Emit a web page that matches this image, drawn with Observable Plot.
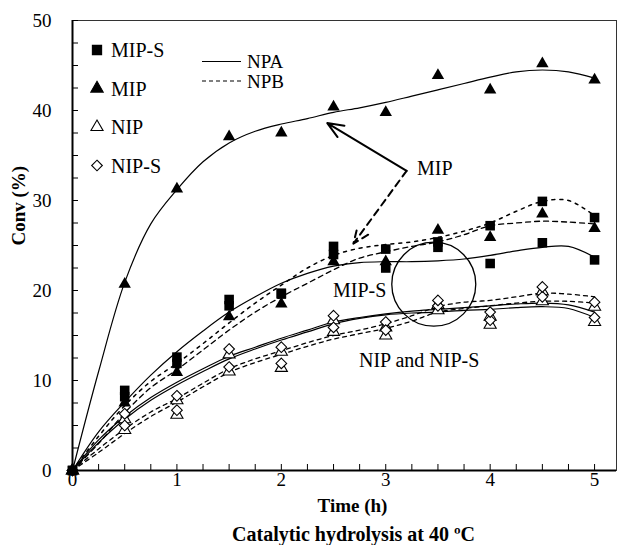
<!DOCTYPE html>
<html><head><meta charset="utf-8">
<script src="https://cdn.jsdelivr.net/npm/d3@7"></script>
<script src="https://cdn.jsdelivr.net/npm/@observablehq/plot@0.6"></script>
<style>body{margin:0;background:#fff} svg text{font-family:"Liberation Serif","Times New Roman",Times,serif;}</style>
</head><body><div id="chart"></div>
<script>
// ---- measured points (markers) ----
const times = [0, 0.5, 1, 1.5, 2, 2.5, 3, 3.5, 4, 4.5, 5];
const mipNPA   = [0, 20.7, 31.3, 37.1, 37.5, 40.4, 39.8, 43.9, 42.3, 45.2, 43.4];
const mipNPB   = [0, 7.5, 10.9, 17.1, 18.5, 23.2, 23.2, 26.7, 25.9, 28.5, 26.9];
const mipsNPA  = [0, 8.9, 12.6, 19.0, 19.7, 24.0, 22.5, 24.8, 23.0, 25.3, 23.4];
const mipsNPB  = [0, 8.2, 11.9, 18.3, 19.6, 24.9, 24.6, 25.4, 27.2, 29.9, 28.1];
const nipNPA   = [0, 5.7, 7.8, 12.9, 13.2, 16.7, 15.9, 17.8, 16.2, 18.8, 16.5];
const nipsNPA  = [0, 6.3, 8.3, 13.5, 13.7, 17.2, 16.5, 18.3, 16.7, 19.3, 17.0];
const nipNPB   = [0, 4.5, 6.2, 11.0, 11.4, 15.4, 15.0, 18.4, 17.1, 19.9, 18.2];
const nipsNPB  = [0, 5.0, 6.7, 11.5, 11.9, 15.9, 15.6, 18.9, 17.6, 20.4, 18.7];

// ---- fitted curves ----
const curveTimes = [0, 0.25, 0.5, 0.75, 1, 1.25, 1.5, 1.75, 2, 2.25, 2.5, 2.75, 3, 3.25, 3.5, 3.75, 4, 4.25, 4.5, 4.75, 5];
const mipNPALine  = [0, 11.0, 20.9, 27.4, 31.2, 34.3, 36.4, 37.7, 38.5, 39.1, 39.8, 40.3, 40.9, 41.6, 42.3, 43.0, 43.7, 44.3, 44.5, 44.3, 43.6];
const mipsNPALine = [0, 4.3, 7.6, 10.6, 13.2, 15.5, 17.6, 19.3, 20.8, 21.9, 22.7, 23.1, 23.2, 23.2, 23.3, 23.5, 23.9, 24.4, 24.8, 24.9, 23.7];
const mipsNPBLine = [0, 3.8, 7.2, 9.9, 11.9, 14.1, 16.4, 18.6, 20.6, 22.5, 23.9, 24.7, 25.1, 25.4, 25.9, 26.6, 27.5, 28.8, 29.9, 30.0, 28.3];
const mipNPBLine  = [0, 3.0, 6.4, 9.2, 11.2, 13.4, 15.6, 17.6, 19.3, 20.8, 22.3, 23.6, 24.3, 24.9, 25.4, 26.2, 27.2, 27.5, 27.7, 27.6, 27.4];
const nipsNPALine = [0, 3.4, 6.0, 8.1, 9.8, 11.3, 12.7, 13.7, 14.7, 15.6, 16.5, 17.0, 17.4, 17.7, 17.9, 18.1, 18.3, 18.5, 18.6, 18.4, 17.6];
const nipNPALine  = [0, 3.1, 5.7, 7.8, 9.5, 11.0, 12.4, 13.5, 14.5, 15.4, 16.3, 16.9, 17.3, 17.5, 17.6, 17.8, 17.9, 18.1, 18.2, 18.0, 17.0];
const nipsNPBLine = [0, 2.4, 4.6, 6.5, 8.0, 9.7, 11.3, 12.4, 13.3, 14.2, 15.0, 15.6, 16.3, 17.2, 18.2, 18.7, 18.9, 19.3, 19.7, 19.6, 19.3];
const nipNPBLine  = [0, 2.0, 4.1, 6.0, 7.6, 9.3, 10.9, 12.0, 12.9, 13.8, 14.6, 15.2, 15.8, 16.6, 17.6, 18.0, 18.3, 18.6, 18.8, 18.8, 18.6];

// ---- axes ----
const xTickLabels = [0, 1, 2, 3, 4, 5];
const xMinorTicks = [0, 0.25, 0.5, 0.75, 1, 1.25, 1.5, 1.75, 2, 2.25, 2.5, 2.75, 3, 3.25, 3.5, 3.75, 4, 4.25, 4.5, 4.75, 5];
const yTickLabels = [0, 10, 20, 30, 40, 50];
const yMinorTicks = [0, 2.5, 5, 7.5, 10, 12.5, 15, 17.5, 20, 22.5, 25, 27.5, 30, 32.5, 35, 37.5, 40, 42.5, 45, 47.5, 50];

// ---- annotations ----
const labelTexts = ["MIP", "MIP-S", "NIP and NIP-S"];
const labelX = [3.30, 2.75, 3.32];
const labelY = [33.6, 20.0, 12.2];
const labelAnchor = ["start", "middle", "middle"];
const arrowFrom = [[3.20, 33.3], [3.20, 33.3]];
const arrowTo = [[2.44, 38.6], [2.69, 25.2]];
const arrowDashed = [false, true];
const circleCenter = [{t: 3.46, v: 20.7}];

const legendSymbols = ["MIP-S", "MIP", "NIP", "NIP-S"];
const legendLines = ["NPA", "NPB"];

const pts = (ts, vs) => ts.map((t, i) => ({t, v: vs[i]}));
const labels = labelTexts.map((text, i) => ({text, t: labelX[i], v: labelY[i], anchor: labelAnchor[i]}));
const arrows = arrowFrom.map((f, i) => ({x1: f[0], y1: f[1], x2: arrowTo[i][0], y2: arrowTo[i][1], dashed: arrowDashed[i]}));

const FONT = "'Liberation Serif', 'Times New Roman', Times, serif";

function line(vals, dash, sw = 1.2) {
  return Plot.line(pts(curveTimes, vals), {x: "t", y: "v", curve: "catmull-rom", stroke: "black", strokeWidth: sw, strokeDasharray: dash});
}

function legendMark(index, scales, values, dims) {
  const g = d3.create("svg:g").attr("font-family", FONT).attr("font-size", 20).attr("fill", "black").attr("text-anchor", "start");
  const L = dims.marginLeft, T = dims.marginTop;
  const specs = [
    {sym: d3.symbolSquare, size: Math.PI * 5.2 * 5.2, fill: "black"},
    {sym: d3.symbolTriangle, size: Math.PI * 4.6 * 4.6, fill: "black"},
    {sym: d3.symbolTriangle, size: Math.PI * 4.5 * 4.5, fill: "white"},
    {sym: d3.symbolDiamond2, size: Math.PI * 4.8 * 4.8, fill: "white"}
  ];
  legendSymbols.forEach((label, i) => {
    const y = T + 30 + i * 38.5;
    const s = specs[i];
    g.append("path").attr("transform", `translate(${L + 25},${y})`)
      .attr("d", d3.symbol(s.sym, s.size)()).attr("fill", s.fill).attr("stroke", "black").attr("stroke-width", 1.1);
    g.append("text").attr("x", L + 39).attr("y", y).attr("dy", "0.35em").text(label);
  });
  legendLines.forEach((label, i) => {
    const y = T + 41.5 + i * 19.5;
    g.append("line").attr("x1", L + 130).attr("x2", L + 169).attr("y1", y).attr("y2", y)
      .attr("stroke", "black").attr("stroke-width", 1.1).attr("stroke-dasharray", i === 0 ? null : "4,3");
    g.append("text").attr("x", L + 175).attr("y", y).attr("dy", "0.35em").attr("font-size", 19).text(label);
  });
  return g.node();
}

const chart = Plot.plot({
  width: 621,
  height: 545,
  marginLeft: 72,
  marginRight: 5,
  marginTop: 20,
  marginBottom: 75,
  style: {fontFamily: FONT, fontSize: "19px", color: "black", background: "white", overflow: "visible"},
  x: {domain: [0, 5.21], axis: null},
  y: {domain: [0, 50], axis: null},
  marks: [
    Plot.frame({stroke: "#333", strokeWidth: 1}),
    Plot.ruleX([0], {stroke: "black", strokeWidth: 2}),
    Plot.ruleY([0], {stroke: "black", strokeWidth: 2}),
    Plot.axisX(xMinorTicks, {anchor: "bottom", tickSize: -6, tickFormat: () => "", label: null}),
    Plot.axisX(xTickLabels, {anchor: "bottom", tickSize: 0, tickPadding: 2, fontSize: 19, label: null}),
    Plot.axisY(yMinorTicks, {anchor: "left", tickSize: -6, tickFormat: () => "", label: null}),
    Plot.axisY(yTickLabels, {anchor: "left", tickSize: 0, tickPadding: 21, fontSize: 19, label: null}),

    line(mipNPALine, null),
    line(mipsNPALine, null),
    line(mipsNPBLine, "3,5", 1.5),
    line(mipNPBLine, "5,4", 1.3),
    line(nipsNPALine, null),
    line(nipNPALine, null),
    line(nipsNPBLine, "4,4", 1.3),
    line(nipNPBLine, "4,4", 1.3),

    Plot.dot(pts(times, nipNPA), {x: "t", y: "v", symbol: "triangle", r: 4.5, fill: "white", stroke: "black", strokeWidth: 1.1}),
    Plot.dot(pts(times, nipNPB), {x: "t", y: "v", symbol: "triangle", r: 4.5, fill: "white", stroke: "black", strokeWidth: 1.1}),
    Plot.dot(pts(times, nipsNPA), {x: "t", y: "v", symbol: "diamond2", r: 4.8, fill: "white", stroke: "black", strokeWidth: 1.1}),
    Plot.dot(pts(times, nipsNPB), {x: "t", y: "v", symbol: "diamond2", r: 4.8, fill: "white", stroke: "black", strokeWidth: 1.1}),
    Plot.dot(pts(times, mipNPA), {x: "t", y: "v", symbol: "triangle", r: 4.6, fill: "black", stroke: "none"}),
    Plot.dot(pts(times, mipNPB), {x: "t", y: "v", symbol: "triangle", r: 4.6, fill: "black", stroke: "none"}),
    Plot.dot(pts(times, mipsNPA), {x: "t", y: "v", symbol: "square", r: 5.4, fill: "black", stroke: "none"}),
    Plot.dot(pts(times, mipsNPB), {x: "t", y: "v", symbol: "square", r: 5.4, fill: "black", stroke: "none"}),

    Plot.dot(circleCenter, {x: "t", y: "v", r: 42, fill: "none", stroke: "black", strokeWidth: 1.3}),
    Plot.arrow(arrows.filter(d => !d.dashed), {x1: "x1", y1: "y1", x2: "x2", y2: "y2", stroke: "black", strokeWidth: 2, headLength: 13, headAngle: 45}),
    Plot.arrow(arrows.filter(d => d.dashed), {x1: "x1", y1: "y1", x2: "x2", y2: "y2", stroke: "black", strokeWidth: 2, headLength: 13, headAngle: 45, strokeDasharray: "7,5"}),
    Plot.text(labels.filter(d => d.anchor === "start"), {x: "t", y: "v", text: "text", textAnchor: "start", fontSize: 20, fill: "black", fontFamily: FONT}),
    Plot.text(labels.filter(d => d.anchor === "middle"), {x: "t", y: "v", text: "text", textAnchor: "middle", fontSize: 20, fill: "black", fontFamily: FONT}),

    Plot.text(["Time (h)"], {text: d => d, frameAnchor: "bottom", lineAnchor: "middle", dx: 8, dy: 35, fontWeight: "bold", fontSize: 19, fontFamily: FONT}),
    Plot.text(["Catalytic hydrolysis at 40 ºC"], {text: d => d, frameAnchor: "bottom", lineAnchor: "middle", dx: 9, dy: 64, fontWeight: "bold", fontSize: 20, fontFamily: FONT}),
    Plot.text(["Conv (%)"], {text: d => d, frameAnchor: "left", dx: -54, rotate: -90, fontWeight: "bold", fontSize: 19, fontFamily: FONT}),
    legendMark
  ]
});
document.getElementById("chart").appendChild(chart);
</script>
</body></html>
